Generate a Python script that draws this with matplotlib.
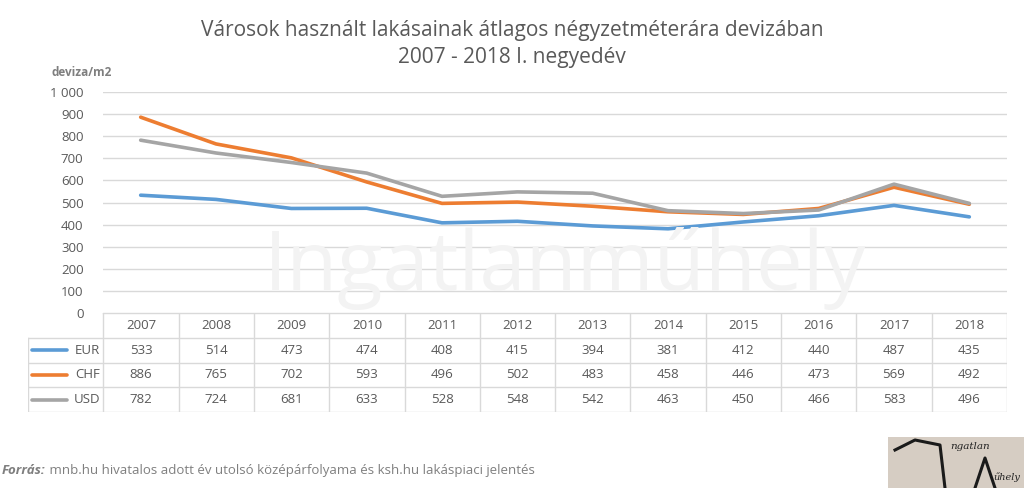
import numpy as np
import matplotlib
matplotlib.use("Agg")
from matplotlib import pyplot as plt
from matplotlib.patches import Rectangle
from matplotlib.lines import Line2D

years = ["2007", "2008", "2009", "2010", "2011", "2012", "2013", "2014", "2015", "2016", "2017", "2018"]
eur = [533, 514, 473, 474, 408, 415, 394, 381, 412, 440, 487, 435]
chf = [886, 765, 702, 593, 496, 502, 483, 458, 446, 473, 569, 492]
usd = [782, 724, 681, 633, 528, 548, 542, 463, 450, 466, 583, 496]
series_names = ["EUR", "CHF", "USD"]
series_colors = ["#5b9bd5", "#ed7d31", "#a5a5a5"]
yticks = [0, 100, 200, 300, 400, 500, 600, 700, 800, 900, 1000]
ytick_labels = ["0", "100", "200", "300", "400", "500", "600", "700", "800", "900", "1 000"]

title = "Városok használt lakásainak átlagos négyzetméterára devizában\n2007 - 2018 I. negyedév"
unit_label = "deviza/m2"
source_bold = "Forrás:"
source_text = " mnb.hu hivatalos adott év utolsó középárfolyama és ksh.hu lakáspiaci jelentés"

plt.rcParams["font.family"] = ["Open Sans", "DejaVu Sans"]
W, H = 1024, 488
fig = plt.figure(figsize=(W / 100, H / 100), dpi=100)

def box(x0, y0, x1, y1):
    # pixel box (top-left origin) -> figure fraction rect
    return [x0 / W, 1 - y1 / H, (x1 - x0) / W, (y1 - y0) / H]

text_gray = "#595959"
grid_gray = "#d9d9d9"

# watermark
fig.text(565 / W, 1 - 268 / H, "Ingatlanműhely", fontsize=60, color="#f3f3f3",
         ha="center", va="center", zorder=0)

ax = fig.add_axes(box(103, 92, 1007, 313))
ax.patch.set_alpha(0)
x = np.arange(len(years))
all_series = [eur, chf, usd]
for vals, name, col in zip(all_series, series_names, series_colors):
    ax.plot(x, vals, color=col, lw=2.6, solid_capstyle="round", zorder=3)
ax.set_xlim(-0.5, len(years) - 0.5)
ax.set_ylim(0, 1000)
ax.set_yticks(yticks)
ax.set_yticklabels(ytick_labels, fontsize=9.5, color=text_gray)
ax.tick_params(axis="y", length=0, pad=14)
ax.set_xticks([])
ax.grid(axis="y", color=grid_gray, lw=1)
ax.set_axisbelow(True)
for s in ax.spines.values():
    s.set_visible(False)

# data table
tab = fig.add_axes(box(28, 313, 1007, 412))
tab.set_xlim(-1.5, len(years) - 0.5)
tab.set_ylim(4, 0)
tab.axis("off")
lc = dict(color=grid_gray, lw=1)
tab.plot([-0.5, len(years) - 0.5], [0, 0], **lc)
for r in range(1, 5):
    tab.plot([-1.5, len(years) - 0.5], [r, r], **lc)
tab.plot([-1.5, -1.5], [1, 4], **lc)
for c in range(len(years) + 1):
    tab.plot([c - 0.5, c - 0.5], [0, 4], **lc)
for i, yr in enumerate(years):
    tab.text(i, 0.5, yr, ha="center", va="center", fontsize=9.5, color=text_gray)
for r, (vals, name, col) in enumerate(zip(all_series, series_names, series_colors)):
    yy = r + 1.5
    tab.plot([-1.45, -0.98], [yy, yy], color=col, lw=2.6, solid_capstyle="round")
    tab.text(-0.54, yy, name, ha="right", va="center", fontsize=9.5, color=text_gray)
    for i, v in enumerate(vals):
        tab.text(i, yy, str(v), ha="center", va="center", fontsize=9.5, color=text_gray)

fig.text(0.5, 1 - 44 / H, title, ha="center", va="center", fontsize=15,
         color=text_gray, linespacing=1.35)
fig.text(52 / W, 1 - 73 / H, unit_label, ha="left", va="center", fontsize=8.5,
         color="#7f7f7f", fontweight="bold")

t = fig.text(2 / W, 1 - 474 / H, source_bold, ha="left", va="baseline", fontsize=9.5,
             color="#7f7f7f", fontweight="bold", style="italic")
fig.canvas.draw()
bb = t.get_window_extent()
fig.text(bb.x1 / W, 1 - 474 / H, source_text, ha="left", va="baseline", fontsize=9.5,
         color="#7f7f7f")

# logo box
fig.patches.append(Rectangle((888 / W, 0), (1024 - 888) / W, (488 - 437) / H,
                             transform=fig.transFigure, facecolor="#d6cdc3",
                             edgecolor="none", zorder=1))
stroke = [((895, 450), (915, 440), (940, 445), (945, 488)), ((975, 488), (985, 458), (995, 488))]
for pts in stroke:
    xs = [p[0] / W for p in pts]
    ys = [1 - p[1] / H for p in pts]
    fig.lines.append(Line2D(xs, ys, transform=fig.transFigure, color="#1a1a1a",
                            lw=2.2, zorder=2))
fig.text(950 / W, 1 - 449 / H, "ngatlan", fontsize=7.5, style="italic",
         color="#222222", family="DejaVu Serif", zorder=2)
fig.text(993 / W, 1 - 480 / H, "űhely", fontsize=7, style="italic",
         color="#222222", family="DejaVu Serif", zorder=2)

fig.savefig("out.png", dpi=100)
